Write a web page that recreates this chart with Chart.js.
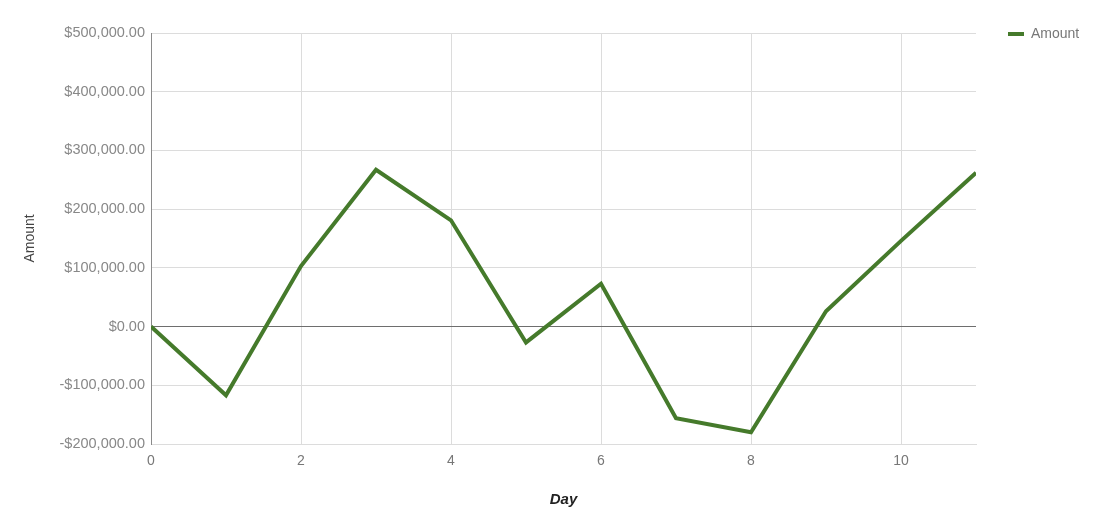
<!DOCTYPE html>
<html>
<head>
<meta charset="utf-8">
<script src="https://cdn.jsdelivr.net/npm/chart.js@4"></script>
<style>
  html, body { margin: 0; padding: 0; background: #ffffff; }
  #wrap { width: 1099px; height: 525px; }
</style>
</head>
<body>
<div id="wrap"><canvas id="c" width="1099" height="525"></canvas></div>
<script>
const days = [0, 1, 2, 3, 4, 5, 6, 7, 8, 9, 10, 11];
const amounts = [0, -117000, 103000, 267000, 181000, -27000, 73000, -156000, -180000, 26000, 146000, 262000];
const seriesName = 'Amount';
const xTitle = 'Day';
const yTitle = 'Amount';

const FONT = '"Liberation Sans", Arial, sans-serif';
const GREEN = '#457a2b';

function money(v) {
  const s = Math.abs(v).toLocaleString('en-US', { minimumFractionDigits: 2, maximumFractionDigits: 2 });
  return (v < 0 ? '-$' : '$') + s;
}

new Chart(document.getElementById('c'), {
  type: 'line',
  data: {
    datasets: [{
      label: seriesName,
      data: days.map((d, i) => ({ x: d, y: amounts[i] })),
      borderColor: GREEN,
      backgroundColor: GREEN,
      borderWidth: 4,
      pointRadius: 0,
      pointHoverRadius: 0,
      tension: 0,
      fill: false
    }]
  },
  options: {
    responsive: false,
    animation: false,
    layout: { padding: { top: -5, right: 0, left: 0, bottom: 0 } },
    plugins: {
      tooltip: { enabled: false },
      legend: {
        position: 'right',
        align: 'start',
        labels: {
          boxWidth: 16,
          boxHeight: 4,
          padding: 32,
          color: '#777777',
          font: { family: FONT, size: 14 },
          generateLabels: (chart) => {
            const items = Chart.defaults.plugins.legend.labels.generateLabels(chart);
            items.forEach(it => { it.lineWidth = 0; it.strokeStyle = GREEN; it.fillStyle = GREEN; });
            return items;
          }
        }
      }
    },
    scales: {
      x: {
        type: 'linear',
        min: 0,
        max: 11,
        afterFit: (axis) => { axis.height = 81; axis.paddingRight = 123; axis.paddingLeft = 0; },
        ticks: {
          stepSize: 2,
          includeBounds: false,
          padding: 9,
          color: '#777777',
          font: { family: FONT, size: 14 },
          maxRotation: 0
        },
        grid: { color: '#dcdcdc', lineWidth: 1, drawTicks: false },
        border: { display: true, color: '#dcdcdc' },
        title: {
          display: true,
          text: xTitle,
          color: '#222222',
          font: { family: FONT, size: 15, weight: 'bold', style: 'italic' },
          padding: { top: 0, bottom: 16 }
        }
      },
      y: {
        min: -200000,
        max: 500000,
        afterFit: (axis) => { axis.width = 151; axis.paddingTop = 33; },
        ticks: {
          stepSize: 100000,
          padding: 6,
          color: '#888888',
          font: { family: FONT, size: 14.5 },
          callback: (v) => money(v)
        },
        grid: {
          drawTicks: false,
          lineWidth: 1,
          color: (ctx) => (ctx.tick && ctx.tick.value === 0) ? '#6e6e6e' : '#dcdcdc'
        },
        border: { display: true, color: '#8a8a8a' },
        title: {
          display: true,
          text: yTitle,
          color: '#444444',
          font: { family: FONT, size: 14 },
          padding: { top: 22, bottom: 0 }
        }
      }
    }
  }
});
</script>
</body>
</html>
